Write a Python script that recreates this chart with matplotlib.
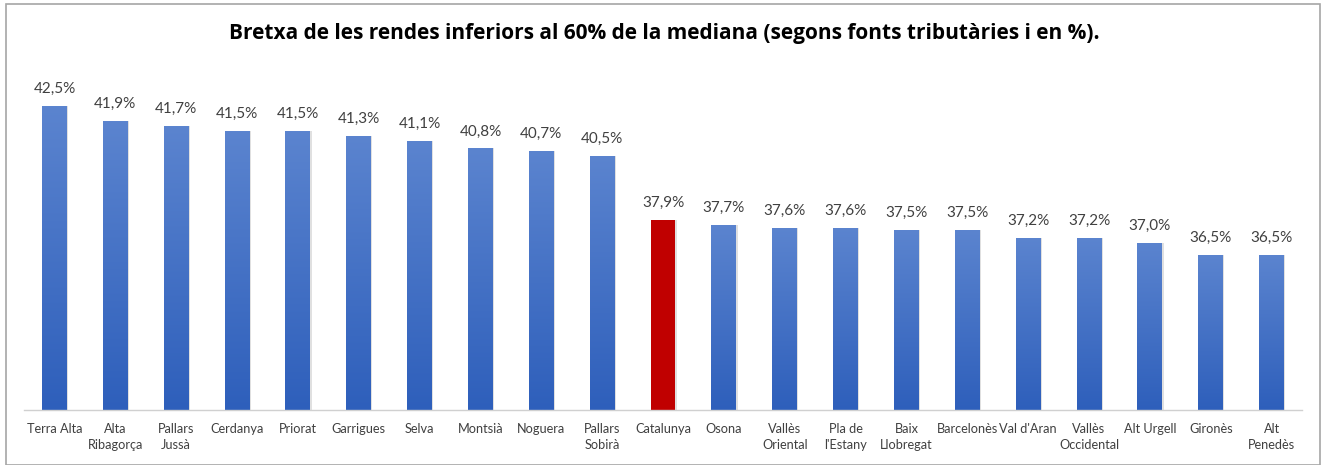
import numpy as np
import matplotlib
matplotlib.use('Agg')
import matplotlib.pyplot as plt
from matplotlib.patches import Rectangle

# dades
comarques = ['Terra Alta', 'Alta\nRibagorça', 'Pallars\nJussà', 'Cerdanya', 'Priorat',
             'Garrigues', 'Selva', 'Montsià', 'Noguera', 'Pallars\nSobirà', 'Catalunya',
             'Osona', 'Vallès\nOriental', 'Pla de\nl\'Estany', 'Baix\nLlobregat',
             'Barcelonès', 'Val d\'Aran', 'Vallès\nOccidental', 'Alt Urgell', 'Gironès',
             'Alt\nPenedès']
valors = [42.5, 41.9, 41.7, 41.5, 41.5, 41.3, 41.1, 40.8, 40.7, 40.5, 37.9,
          37.7, 37.6, 37.6, 37.5, 37.5, 37.2, 37.2, 37.0, 36.5, 36.5]
destacat = 'Catalunya'

W, H = 1322, 465
fig = plt.figure(figsize=(W / 100, H / 100), dpi=100)
plt.rcParams['font.family'] = ['Open Sans', 'DejaVu Sans']

ax = fig.add_axes([24 / W, 1 - 410 / H, (1302 - 24) / W, (410 - 69) / H])
ymin, ymax = 30.25, 44.0
ax.set_xlim(-0.5, len(valors) - 0.5)
ax.set_ylim(ymin, ymax)

amplada = 0.41
grad = np.linspace(0, 1, 256).reshape(-1, 1)
blau = matplotlib.colors.LinearSegmentedColormap.from_list('b', ['#2e5fbb', '#5b84cf'])

for i, (nom, v) in enumerate(zip(comarques, valors)):
    x0 = i - amplada / 2
    # ombra
    ax.add_patch(Rectangle((x0 + 0.02, ymin), amplada, v - ymin,
                           facecolor='#000000', alpha=0.12, edgecolor='none', zorder=1))
    if nom == destacat:
        ax.bar(i, v - ymin, bottom=ymin, width=amplada, color='#c00000', zorder=2)
    else:
        r = Rectangle((x0, ymin), amplada, v - ymin, facecolor='none', edgecolor='none')
        ax.add_patch(r)
        im = ax.imshow(grad, cmap=blau, aspect='auto', origin='lower',
                       extent=[x0, x0 + amplada, ymin, v], zorder=2)
        im.set_clip_path(r)
    ax.text(i, v + 0.4, f'{v:.1f}%'.replace('.', ','), ha='center', va='bottom',
            fontsize=11, color='#404040', family=['Lato', 'DejaVu Sans'])

ax.set_xlim(-0.5, len(valors) - 0.5)
ax.set_ylim(ymin, ymax)
ax.set_xticks(range(len(comarques)))
ax.set_xticklabels(comarques, fontsize=9.2, color='#404040', linespacing=1.45,
                   family=['Lato', 'DejaVu Sans'])
ax.tick_params(axis='x', length=0, pad=9)
ax.set_yticks([])
for s in ['top', 'right', 'left']:
    ax.spines[s].set_visible(False)
ax.spines['bottom'].set_color('#d0d0d0')
ax.spines['bottom'].set_linewidth(1)

fig.text(664 / W, 1 - 34 / H,
         'Bretxa de les rendes inferiors al 60% de la mediana (segons fonts tributàries i en %).',
         ha='center', va='center', fontsize=15, fontweight='bold', color='#000000')

# marc
fig.add_artist(Rectangle((6 / W, 0), (1320 - 6) / W, 1 - 4 / H, transform=fig.transFigure,
                         fill=False, edgecolor='#a6a6a6', linewidth=1.2))

fig.savefig('out.png', dpi=100)
